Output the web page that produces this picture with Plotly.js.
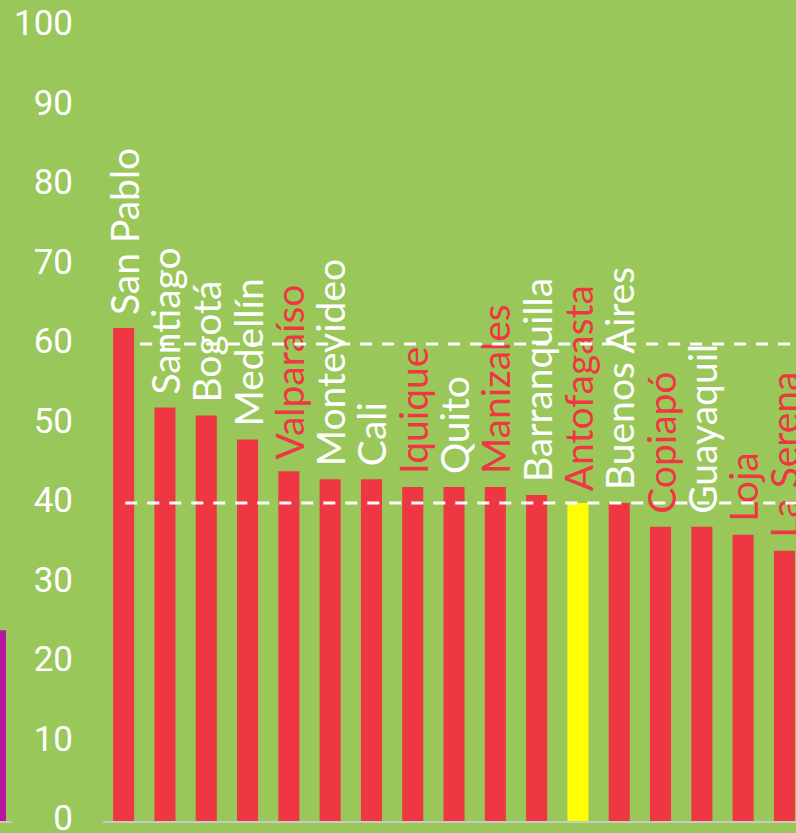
<!DOCTYPE html>
<html>
<head>
<meta charset="utf-8">
<script src="https://cdn.plot.ly/plotly-3.0.1.min.js"></script>
<style>
html,body{margin:0;padding:0;background:#9AC75A;}
#chart{width:796px;height:833px;}
</style>
</head>
<body>
<div id="chart"></div>
<script>
// ---- data ----
const categories = ['San Pablo','Santiago','Bogotá','Medellín','Valparaíso','Montevideo','Cali','Iquique','Quito','Manizales','Barranquilla','Antofagasta','Buenos Aires','Copiapó','Guayaquil','Loja','La Serena'];
const values = [62,52,51,48,44,43,43,42,42,42,41,40,40,37,37,36,34];
const labelTone = ['white','white','white','white','red','white','white','red','white','red','white','red','white','red','white','red','red'];
const highlighted = 'Antofagasta';
const referenceLevels = [60, 40];
const leftBarValue = [24];
const yTickValues = [0,10,20,30,40,50,60,70,80,90,100];

// ---- styles ----
const GREEN = '#9AC75A';
const RED = '#EE3742';
const YELLOW = '#FFFF00';
const PURPLE = '#B5179F';
const W = 796;

const barColors = categories.map(c => c === highlighted ? YELLOW : RED);
const textColors = labelTone.map(t => t === 'red' ? RED : '#FFFFFF');

const mainTrace = {
  type: 'bar',
  x: categories,
  y: values,
  marker: {color: barColors, line: {width: 0}},
  text: categories.map(c => '\u00A0' + c),
  textposition: 'outside',
  textangle: -90,
  constraintext: 'none',
  cliponaxis: false,
  textfont: {family: 'Lato, sans-serif', size: 39, color: textColors},
  hoverinfo: 'x+y',
  xaxis: 'x',
  yaxis: 'y'
};

const leftTrace = {
  type: 'bar',
  x: [0],
  y: leftBarValue,
  width: [1],
  marker: {color: PURPLE, line: {width: 0}},
  hoverinfo: 'y',
  xaxis: 'x2',
  yaxis: 'y'
};

const lineStarts = [0.4, 0.04];
const shapes = referenceLevels.map((lv, i) => ({
  type: 'line', xref: 'x', yref: 'y', layer: 'above',
  x0: lineStarts[i], x1: 17, y0: lv, y1: lv,
  line: {color: '#FFFFFF', width: 3, dash: '12px,10px'}
}));

const layout = {
  width: W, height: 833,
  paper_bgcolor: GREEN, plot_bgcolor: GREEN,
  margin: {l: 0, r: 0, t: 26, b: 12, pad: 0},
  showlegend: false,
  bargap: 0.49,
  xaxis: {
    domain: [103 / W, 1],
    type: 'category',
    range: [-0.5, 16.28],
    showticklabels: false, ticks: '',
    showgrid: false, zeroline: false,
    showline: true, linecolor: '#C9C9C9', linewidth: 2,
    fixedrange: true
  },
  xaxis2: {
    domain: [0, 12 / W],
    anchor: 'y',
    range: [0, 1],
    showticklabels: false, ticks: '',
    showgrid: false, zeroline: false,
    showline: true, linecolor: '#C9C9C9', linewidth: 2,
    fixedrange: true
  },
  yaxis: {
    anchor: 'x',
    range: [0, 100],
    tickvals: yTickValues,
    ticktext: yTickValues.map(String),
    ticks: 'outside', ticklen: 22, tickcolor: 'rgba(0,0,0,0)',
    ticklabeloverflow: 'allow',
    ticklabelshift: -3,
    tickfont: {family: 'Roboto, sans-serif', size: 35, color: '#FFFFFF'},
    showgrid: false, zeroline: false, showline: false,
    fixedrange: true
  },
  shapes: shapes
};

Plotly.newPlot('chart', [leftTrace, mainTrace], layout, {displayModeBar: false, staticPlot: true});
</script>
</body>
</html>
